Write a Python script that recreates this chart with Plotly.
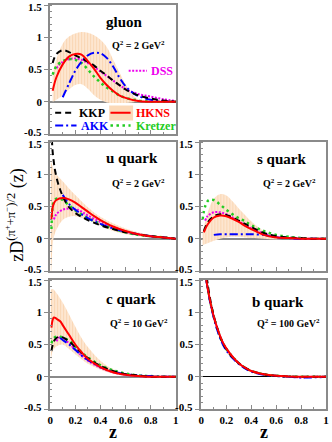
import plotly.graph_objects as go

# ---------------- data ----------------
# gluon, Q^2 = 2 GeV^2
z_g = [0.02, 0.05, 0.1, 0.15, 0.2, 0.25, 0.3, 0.35, 0.4, 0.45, 0.5, 0.55, 0.6, 0.7, 0.8, 0.9, 1.0]
hkns_g = [0.17, 0.38, 0.58, 0.70, 0.74, 0.73, 0.63, 0.51, 0.37, 0.26, 0.17, 0.10, 0.06, 0.01, 0.0, 0.0, 0.0]
kkp_g = [0.60, 0.74, 0.80, 0.77, 0.72, 0.67, 0.62, 0.56, 0.48, 0.41, 0.33, 0.26, 0.19, 0.10, 0.05, 0.02, 0.0]
kretzer_g = [0.42, 0.55, 0.63, 0.66, 0.65, 0.60, 0.50, 0.39, 0.30, 0.22, 0.16, 0.10, 0.06, 0.02, 0.0, 0.0, 0.0]
z_akk_g = [0.1, 0.15, 0.2, 0.25, 0.3, 0.35, 0.4, 0.45, 0.5, 0.55, 0.6, 0.65, 0.7, 0.8, 0.9, 1.0]
akk_g = [0.07, 0.28, 0.48, 0.62, 0.72, 0.76, 0.75, 0.68, 0.55, 0.38, 0.24, 0.15, 0.09, 0.03, 0.01, 0.0]
z_dss_g = [0.05, 0.1, 0.15, 0.2, 0.25, 0.3, 0.35, 0.4, 0.45, 0.5, 0.55, 0.6, 0.7, 0.8, 0.9, 1.0]
dss_g = [0.52, 0.62, 0.66, 0.67, 0.65, 0.60, 0.54, 0.47, 0.40, 0.33, 0.26, 0.20, 0.12, 0.08, 0.04, 0.01]
z_band_g = [0.02, 0.05, 0.1, 0.15, 0.2, 0.25, 0.3, 0.35, 0.4, 0.45, 0.5, 0.55, 0.6, 0.65, 0.7, 0.8]
band_lo_g = [0.0, 0.03, 0.10, 0.19, 0.26, 0.27, 0.20, 0.10, 0.03, -0.01, -0.02, -0.02, -0.02, -0.01, 0.0, 0.0]
band_hi_g = [0.42, 0.66, 0.90, 1.01, 1.06, 1.08, 1.07, 1.03, 0.96, 0.85, 0.66, 0.46, 0.27, 0.12, 0.04, 0.0]

# u quark, Q^2 = 2 GeV^2
z_u = [0.01, 0.02, 0.03, 0.05, 0.1, 0.15, 0.2, 0.25, 0.3, 0.35, 0.4, 0.5, 0.6, 0.7, 0.8, 0.9, 1.0]
hkns_u = [0.30, 0.48, 0.55, 0.60, 0.63, 0.61, 0.56, 0.49, 0.42, 0.35, 0.29, 0.19, 0.12, 0.07, 0.04, 0.02, 0.0]
z_kkp_u = [0.01, 0.02, 0.03, 0.04, 0.06, 0.08, 0.1, 0.12, 0.15, 0.2, 0.25, 0.3, 0.4, 0.5, 0.6, 0.7, 0.8, 0.9, 1.0]
kkp_u = [1.70, 1.35, 1.18, 1.05, 0.88, 0.76, 0.66, 0.58, 0.49, 0.40, 0.34, 0.29, 0.21, 0.15, 0.10, 0.07, 0.04, 0.02, 0.0]
z_akk_u = [0.1, 0.12, 0.15, 0.2, 0.3, 0.4, 0.5, 0.6, 0.7, 0.8, 0.9, 1.0]
akk_u = [0.68, 0.62, 0.54, 0.45, 0.32, 0.23, 0.16, 0.11, 0.07, 0.04, 0.02, 0.0]
z_kre_u = [0.01, 0.02, 0.03, 0.05, 0.08, 0.1, 0.15, 0.2, 0.3, 0.4, 0.5, 0.6, 0.7, 0.8, 0.9, 1.0]
kretzer_u = [0.15, 0.50, 0.58, 0.62, 0.62, 0.60, 0.52, 0.44, 0.32, 0.23, 0.16, 0.10, 0.06, 0.04, 0.02, 0.0]
z_dss_u = [0.03, 0.05, 0.1, 0.15, 0.2, 0.25, 0.3, 0.4, 0.5, 0.6, 0.7, 0.8, 0.9, 1.0]
dss_u = [0.30, 0.38, 0.45, 0.47, 0.46, 0.42, 0.36, 0.26, 0.17, 0.11, 0.07, 0.04, 0.02, 0.0]
z_band_u = [0.005, 0.01, 0.02, 0.03, 0.05, 0.1, 0.15, 0.2, 0.3, 0.4, 0.5, 0.6, 0.7, 0.8, 0.9, 1.0]
band_lo_u = [-0.60, -0.45, -0.10, 0.03, 0.14, 0.29, 0.34, 0.35, 0.29, 0.20, 0.12, 0.07, 0.04, 0.02, 0.01, 0.0]
band_hi_u = [1.25, 1.18, 1.12, 1.07, 1.00, 0.89, 0.78, 0.68, 0.49, 0.34, 0.24, 0.16, 0.10, 0.06, 0.03, 0.0]

# s quark, Q^2 = 2 GeV^2
z_s = [0.02, 0.05, 0.1, 0.15, 0.2, 0.25, 0.3, 0.35, 0.4, 0.5, 0.6, 0.7, 0.8, 0.9, 1.0]
hkns_s = [0.10, 0.22, 0.33, 0.36, 0.35, 0.31, 0.26, 0.20, 0.15, 0.06, 0.02, 0.01, 0.0, 0.0, 0.0]
kkp_s = [0.12, 0.25, 0.35, 0.38, 0.37, 0.33, 0.28, 0.23, 0.18, 0.09, 0.04, 0.02, 0.01, 0.0, 0.0]
z_akk_s = [0.1, 0.15, 0.2, 0.3, 0.4, 0.5, 0.55, 0.6, 0.7, 0.8, 0.9, 1.0]
akk_s = [0.06, 0.07, 0.07, 0.07, 0.07, 0.06, 0.04, 0.02, 0.01, 0.0, 0.0, 0.0]
z_kre_s = [0.01, 0.03, 0.06, 0.1, 0.15, 0.2, 0.25, 0.3, 0.35, 0.4, 0.5, 0.6, 0.7, 0.8, 0.9, 1.0]
kretzer_s = [0.30, 0.50, 0.60, 0.60, 0.53, 0.45, 0.38, 0.32, 0.27, 0.21, 0.12, 0.06, 0.03, 0.01, 0.0, 0.0]
z_dss_s = [0.03, 0.05, 0.1, 0.15, 0.2, 0.25, 0.3, 0.4, 0.5, 0.6, 0.7, 0.8, 0.9, 1.0]
dss_s = [0.28, 0.35, 0.41, 0.41, 0.38, 0.33, 0.27, 0.16, 0.08, 0.03, 0.01, 0.0, 0.0, 0.0]
z_band_s = [0.01, 0.05, 0.1, 0.15, 0.2, 0.25, 0.3, 0.35, 0.4, 0.5, 0.6, 0.7, 0.8]
band_lo_s = [-0.10, -0.07, -0.03, 0.0, 0.02, 0.03, 0.03, 0.02, 0.01, 0.0, -0.01, 0.0, 0.0]
band_hi_s = [0.10, 0.40, 0.62, 0.69, 0.67, 0.58, 0.47, 0.37, 0.27, 0.12, 0.04, 0.01, 0.0]

# c quark, Q^2 = 10 GeV^2
z_c = [0.01, 0.02, 0.03, 0.05, 0.08, 0.1, 0.15, 0.2, 0.25, 0.3, 0.4, 0.5, 0.6, 0.7, 0.8, 0.9, 1.0]
hkns_c = [0.76, 0.88, 0.92, 0.90, 0.86, 0.80, 0.65, 0.50, 0.38, 0.28, 0.15, 0.07, 0.03, 0.01, 0.0, 0.0, 0.0]
z_kk_c = [0.01, 0.03, 0.05, 0.08, 0.1, 0.15, 0.2, 0.25, 0.3, 0.4, 0.5, 0.6, 0.7, 0.8, 0.9, 1.0]
kkp_c = [0.40, 0.55, 0.60, 0.62, 0.61, 0.55, 0.46, 0.37, 0.29, 0.17, 0.09, 0.04, 0.02, 0.0, 0.0, 0.0]
kretzer_c = [0.52, 0.60, 0.62, 0.62, 0.61, 0.56, 0.47, 0.38, 0.30, 0.18, 0.10, 0.05, 0.02, 0.01, 0.0, 0.0]
z_akk_c = [0.08, 0.1, 0.15, 0.2, 0.25, 0.3, 0.4, 0.5, 0.6, 0.7, 0.8, 0.9, 1.0]
akk_c = [0.60, 0.57, 0.50, 0.42, 0.33, 0.26, 0.15, 0.08, 0.04, 0.02, 0.01, 0.0, 0.0]
z_dss_c = [0.05, 0.08, 0.1, 0.15, 0.2, 0.25, 0.3, 0.4, 0.5, 0.6, 0.7, 0.8, 0.9, 1.0]
dss_c = [0.55, 0.62, 0.60, 0.52, 0.42, 0.33, 0.25, 0.14, 0.07, 0.03, 0.01, 0.0, 0.0, 0.0]
z_band_c = [0.005, 0.02, 0.05, 0.1, 0.15, 0.2, 0.25, 0.3, 0.4, 0.5, 0.6, 0.7, 0.8]
band_lo_c = [0.20, 0.40, 0.47, 0.50, 0.43, 0.35, 0.27, 0.20, 0.11, 0.05, 0.02, 0.01, 0.0]
band_hi_c = [1.35, 1.36, 1.30, 1.15, 0.97, 0.78, 0.60, 0.46, 0.25, 0.12, 0.05, 0.02, 0.0]

# b quark, Q^2 = 100 GeV^2
z_b = [0.03, 0.04, 0.05, 0.07, 0.1, 0.13, 0.17, 0.2, 0.25, 0.3, 0.35, 0.4, 0.5, 0.6, 0.7, 0.8, 0.9, 1.0]
hkns_b = [1.75, 1.50, 1.38, 1.18, 0.93, 0.74, 0.54, 0.44, 0.31, 0.21, 0.14, 0.09, 0.04, 0.015, 0.005, 0.0, 0.0, 0.0]
kkp_b = [1.85, 1.60, 1.45, 1.21, 0.94, 0.74, 0.53, 0.43, 0.30, 0.21, 0.14, 0.09, 0.04, 0.015, 0.005, 0.0, 0.0, 0.0]
akk_b = [1.75, 1.50, 1.37, 1.16, 0.91, 0.71, 0.51, 0.41, 0.29, 0.20, 0.13, 0.08, 0.03, 0.01, 0.0, -0.01, -0.01, 0.0]
kretzer_b = [1.78, 1.52, 1.39, 1.18, 0.93, 0.73, 0.53, 0.43, 0.31, 0.21, 0.14, 0.09, 0.04, 0.015, 0.005, 0.0, 0.0, 0.0]
dss_b = [1.76, 1.51, 1.38, 1.17, 0.93, 0.74, 0.54, 0.44, 0.31, 0.21, 0.14, 0.09, 0.04, 0.015, 0.0, -0.01, 0.0, 0.0]

y_ticks = [-0.5, 0, 0.5, 1, 1.5]
y_labels = ["-0.5", "0", "0.5", "1", "1.5"]
x_ticks = [0, 0.2, 0.4, 0.6, 0.8, 1]
x_labels = ["0", "0.2", "0.4", "0.6", "0.8", "1"]

# ---------------- styles ----------------
W, H = 332, 442
SERIF = "Liberation Serif, Times New Roman, serif"
C_KKP, C_AKK, C_HKNS, C_KRE, C_DSS = "black", "#0000ff", "#ff0000", "#22cc22", "#ee00ee"
BAND_BG, BAND_FG = "#fde6d0", "#f7c596"
AXIS_GRAY = "#8a8a8a"

panels = [
    dict(ax="", z=z_g, hk=hkns_g, kk=(z_g, kkp_g), ak=(z_akk_g, akk_g), kr=(z_g, kretzer_g),
         ds=(z_dss_g, dss_g), band=(z_band_g, band_lo_g, band_hi_g)),
    dict(ax="2", z=z_u, hk=hkns_u, kk=(z_kkp_u, kkp_u), ak=(z_akk_u, akk_u), kr=(z_kre_u, kretzer_u),
         ds=(z_dss_u, dss_u), band=(z_band_u, band_lo_u, band_hi_u)),
    dict(ax="3", z=z_s, hk=hkns_s, kk=(z_s, kkp_s), ak=(z_akk_s, akk_s), kr=(z_kre_s, kretzer_s),
         ds=(z_dss_s, dss_s), band=(z_band_s, band_lo_s, band_hi_s)),
    dict(ax="4", z=z_c, hk=hkns_c, kk=(z_kk_c, kkp_c), ak=(z_akk_c, akk_c), kr=(z_kk_c, kretzer_c),
         ds=(z_dss_c, dss_c), band=(z_band_c, band_lo_c, band_hi_c)),
    dict(ax="5", z=z_b, hk=hkns_b, kk=(z_b, kkp_b), ak=(z_b, akk_b), kr=(z_b, kretzer_b),
         ds=(z_b, dss_b), band=None),
]

fig = go.Figure()

for p in panels:
    xa, ya = "x" + p["ax"], "y" + p["ax"]
    if p["band"] is not None:
        zb, lo, hi = p["band"]
        fig.add_trace(go.Scatter(x=zb, y=lo, xaxis=xa, yaxis=ya, mode="lines",
                                 line=dict(width=0, shape="spline"), hoverinfo="skip"))
        fig.add_trace(go.Scatter(x=zb, y=hi, xaxis=xa, yaxis=ya, mode="lines",
                                 line=dict(width=0, shape="spline"), fill="tonexty",
                                 fillcolor=BAND_BG,
                                 fillpattern=dict(shape="|", bgcolor=BAND_BG, fgcolor=BAND_FG,
                                                  size=3, solidity=0.35),
                                 hoverinfo="skip"))
    fig.add_trace(go.Scatter(x=p["ds"][0], y=p["ds"][1], xaxis=xa, yaxis=ya, mode="lines",
                             line=dict(color=C_DSS, width=2, dash="2px,1.5px", shape="spline")))
    fig.add_trace(go.Scatter(x=p["kr"][0], y=p["kr"][1], xaxis=xa, yaxis=ya, mode="lines",
                             line=dict(color=C_KRE, width=2.5, dash="2.5px,3.5px", shape="spline")))
    fig.add_trace(go.Scatter(x=p["ak"][0], y=p["ak"][1], xaxis=xa, yaxis=ya, mode="lines",
                             line=dict(color=C_AKK, width=2, dash="8px,3px,2px,3px", shape="spline")))
    fig.add_trace(go.Scatter(x=p["kk"][0], y=p["kk"][1], xaxis=xa, yaxis=ya, mode="lines",
                             line=dict(color=C_KKP, width=2, dash="6px,4px", shape="spline")))
    fig.add_trace(go.Scatter(x=p["z"], y=p["hk"], xaxis=xa, yaxis=ya, mode="lines",
                             line=dict(color=C_HKNS, width=2, shape="spline")))

# panel placement in pixels -> paper fractions
colL = [48 / W, 176 / W]
colR = [202 / W, 329 / W]
rowT = [1 - 134 / H, 1 - 5 / H]
rowM = [1 - 271 / H, 1 - 142 / H]
rowB = [1 - 409 / H, 1 - 280 / H]
places = {"": (colL, rowT, False), "2": (colL, rowM, False), "3": (colR, rowM, False),
          "4": (colL, rowB, True), "5": (colR, rowB, True)}

tickfont = dict(family=SERIF, size=11, color="black", weight="bold")
layout = {}
edge_labels = []
for suf, (xd, yd, xlab) in places.items():
    zero_col = "black" if suf == "5" else AXIS_GRAY
    zero_w = 1 if suf == "5" else 1.5
    layout["xaxis" + suf] = dict(
        domain=xd, anchor="y" + suf, range=[0, 1], showgrid=False, zeroline=False,
        showline=True, linecolor=AXIS_GRAY, linewidth=2, mirror=True,
        tickvals=x_ticks, ticktext=x_labels, showticklabels=xlab,
        ticks="inside", ticklen=4, tickcolor=AXIS_GRAY, tickfont=tickfont,
        minor=dict(dtick=0.1, ticks="inside", ticklen=2, tickcolor=AXIS_GRAY),
    )
    # the end labels (-0.5, 1.5) are drawn separately so adjacent panels don't collide
    layout["yaxis" + suf] = dict(
        domain=yd, anchor="x" + suf, range=[-0.5, 1.5], showgrid=False,
        zeroline=True, zerolinecolor=zero_col, zerolinewidth=zero_w,
        showline=True, linecolor=AXIS_GRAY, linewidth=2, mirror=True,
        tickvals=y_ticks, ticktext=["", "0", "0.5", "1", ""],
        ticks="outside", ticklen=4, tickcolor=AXIS_GRAY, tickfont=tickfont,
        minor=dict(dtick=0.1, ticks="inside", ticklen=2, tickcolor=AXIS_GRAY),
    )
    for val, lab, shift in [(y_ticks[0], y_labels[0], 2), (y_ticks[-1], y_labels[-1], -2)]:
        edge_labels.append(dict(text=lab, x=xd[0] - 6 / W, y=val, xref="paper", yref="y" + suf,
                                showarrow=False, xanchor="right", yanchor="middle", yshift=shift,
                                font=tickfont))


def bold(size, color="black"):
    return dict(family=SERIF, size=size, color=color, weight="bold")


annotations = list(edge_labels)
labels = [
    ("gluon", 124, 22, 15), ("Q<sup>2</sup> = 2 GeV<sup>2</sup>", 138, 45, 10),
    ("u quark", 131, 158, 15), ("Q<sup>2</sup> = 2 GeV<sup>2</sup>", 138, 183, 10),
    ("s quark", 284, 159, 15), ("Q<sup>2</sup> = 2 GeV<sup>2</sup>", 292, 183, 10),
    ("c quark", 130, 299, 15), ("Q<sup>2</sup> = 10 GeV<sup>2</sup>", 138, 323, 10),
    ("b quark", 280, 302, 15), ("Q<sup>2</sup> = 100 GeV<sup>2</sup>", 291, 323, 10),
    ("z", 112, 432, 18), ("z", 266, 432, 18),
]
for txt, px, py, size in labels:
    annotations.append(dict(text=txt, x=px / W, y=1 - py / H, xref="paper", yref="paper",
                            showarrow=False, xanchor="center", yanchor="middle", font=bold(size)))

annotations.append(dict(
    text="zD<sup>(π<sup>+</sup>+π<sup>−</sup>)/2</sup> (z)", x=12 / W, y=1 - 215 / H,
    xref="paper", yref="paper", showarrow=False, textangle=-90,
    xanchor="center", yanchor="middle", font=dict(family=SERIF, size=18, color="black")))

# legend in the gluon panel
legend_txt = [("KKP", 0.21, -0.17, C_KKP), ("HKNS", 0.67, -0.17, C_HKNS),
              ("AKK", 0.23, -0.37, C_AKK), ("Kretzer", 0.67, -0.37, C_KRE),
              ("DSS", 0.79, 0.48, C_DSS)]
for txt, lx, ly, col in legend_txt:
    annotations.append(dict(text=txt, x=lx, y=ly, xref="x", yref="y", showarrow=False,
                            xanchor="left", yanchor="middle", font=bold(12, col)))

shapes = [
    dict(type="rect", xref="x", yref="y", x0=0.47, x1=0.66, y0=-0.29, y1=-0.06,
         fillcolor="#fbd9b8", line=dict(width=0), layer="above"),
    dict(type="line", xref="x", yref="y", x0=0.48, x1=0.64, y0=-0.17, y1=-0.17,
         line=dict(color=C_HKNS, width=2)),
    dict(type="line", xref="x", yref="y", x0=0.04, x1=0.19, y0=-0.17, y1=-0.17,
         line=dict(color=C_KKP, width=2, dash="6px,4px")),
    dict(type="line", xref="x", yref="y", x0=0.04, x1=0.21, y0=-0.37, y1=-0.37,
         line=dict(color=C_AKK, width=2, dash="8px,3px,2px,3px")),
    dict(type="line", xref="x", yref="y", x0=0.48, x1=0.64, y0=-0.37, y1=-0.37,
         line=dict(color=C_KRE, width=2.5, dash="2.5px,3.5px")),
    dict(type="line", xref="x", yref="y", x0=0.625, x1=0.77, y0=0.48, y1=0.48,
         line=dict(color=C_DSS, width=2, dash="2px,1.5px")),
]

fig.update_layout(
    width=W, height=H, margin=dict(l=0, r=0, t=0, b=0),
    paper_bgcolor="white", plot_bgcolor="white", showlegend=False,
    annotations=annotations, shapes=shapes, **layout,
)

# drop the page's default body margin so the figure sits at the window's corner
fig.write_html("out.html", config={"displayModeBar": False},
               post_script="document.body.style.margin = '0';")
